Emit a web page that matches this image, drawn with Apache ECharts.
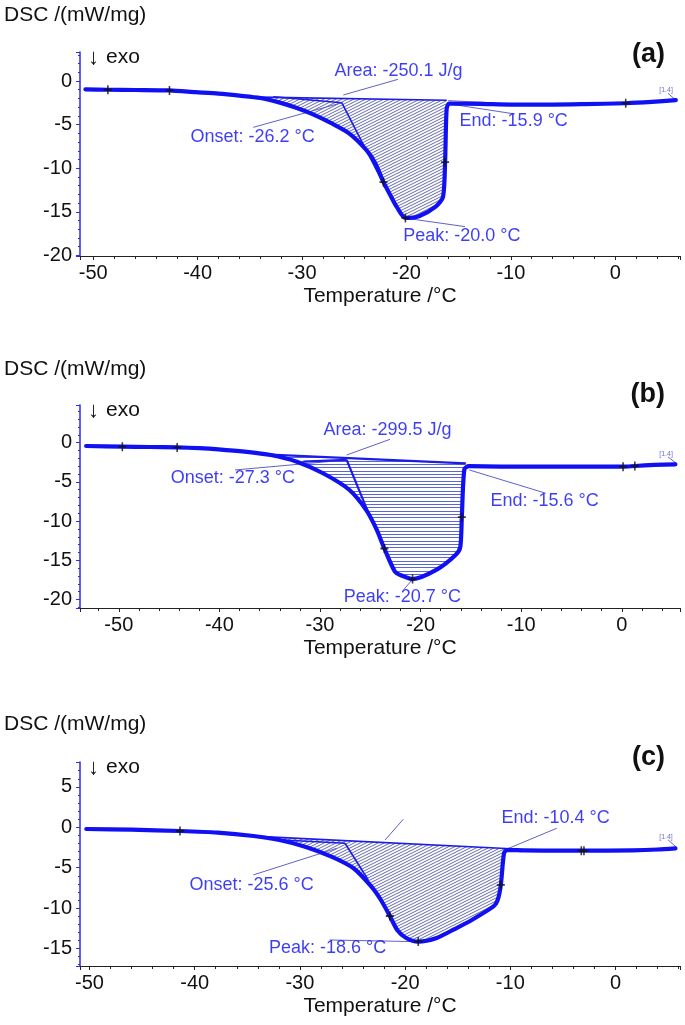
<!DOCTYPE html>
<html><head><meta charset="utf-8">
<script src="https://cdn.jsdelivr.net/npm/echarts@6/dist/echarts.min.js"></script>
<style>html,body{margin:0;padding:0;background:#fff}#c{width:685px;height:1025px}</style>
</head><body><div id="c"></div>
<script>
// ---------- DATA (temperature °C, DSC mW/mg) ----------
const curveA = [[-50.75,-0.95],[-48.6,-1.0],[-46,-1.03],[-42.7,-1.08],[-40.2,-1.28],[-38,-1.45],[-36,-1.68],[-34,-1.95],[-32.2,-2.45],[-30.5,-3.1],[-29,-3.8],[-27.2,-4.84],[-25.5,-6.0],[-23.85,-7.9],[-23,-9.4],[-22.2,-11.6],[-21.5,-13.2],[-20.9,-14.5],[-20.1,-15.7],[-18.8,-15.5],[-17.2,-14.4],[-16.5,-13.3],[-16.3,-9.3],[-16.15,-3.2],[-15.9,-2.6],[-13,-2.62],[-10,-2.7],[-6,-2.7],[-3,-2.65],[1.0,-2.55],[3.5,-2.4],[5.8,-2.2]];
const curveB = [[-53.25,-0.42],[-49.65,-0.51],[-47,-0.55],[-44.2,-0.6],[-42,-0.7],[-40.1,-0.85],[-37.5,-1.14],[-34.9,-1.57],[-32.3,-2.42],[-29.7,-3.9],[-27.1,-6.0],[-25.4,-8.6],[-24.4,-11],[-23.6,-13.5],[-22.55,-16.45],[-21.9,-16.95],[-20.8,-17.4],[-18.4,-16.2],[-16.5,-14.3],[-16.05,-13.3],[-15.9,-9.5],[-15.65,-3.4],[-15.2,-3.0],[-12,-3.05],[-9.76,-3.06],[-5.4,-3.06],[0.13,-3.06],[1.3,-2.97],[3.25,-2.84],[5.33,-2.76]];
const curveC = [[-50.3,-0.21],[-46,-0.3],[-41.4,-0.46],[-37.8,-0.66],[-34.4,-1.08],[-31.95,-1.57],[-29.5,-2.4],[-27.0,-3.63],[-24.9,-5.07],[-23.2,-7.35],[-22.3,-9.0],[-21.45,-10.98],[-20.75,-12.7],[-19.9,-13.7],[-18.75,-14.15],[-17.0,-13.7],[-15.3,-12.6],[-13.7,-11.5],[-11.6,-9.8],[-11.2,-9.0],[-10.9,-7.14],[-10.6,-3.22],[-10.3,-2.8],[-8.7,-2.85],[-5,-2.9],[-3.1,-2.9],[1.66,-2.85],[4,-2.75],[5.7,-2.6]];

const marksA = [[-48.6,-1.0],[-42.7,-1.08],[-22.2,-11.6],[-20.1,-15.7],[-16.3,-9.3],[1.0,-2.55]];
const marksB = [[-49.65,-0.51],[-44.2,-0.6],[-23.6,-13.5],[-20.8,-17.4],[-15.9,-9.5],[0.13,-3.06],[1.3,-2.97]];
const marksC = [[-41.4,-0.46],[-21.45,-10.98],[-18.75,-14.15],[-10.9,-7.14],[-3.25,-2.9],[-3.0,-2.9]];

const baseA = [[-34,-1.85],[-16.15,-2.2]];
const baseB = [[-35.5,-1.5],[-15.5,-2.63]];
const baseC = [[-34,-1.12],[-10.4,-2.62]];

const tangentA = [[[-32.76,-1.8],[-26.2,-2.49]],[[-26.2,-2.49],[-22.22,-11.73]]];
const tangentB = [[[-31.66,-2.42],[-27.35,-2.2]],[[-27.35,-2.2],[-25.03,-9.44]]];
const tangentC = [[[-31.58,-1.57],[-25.71,-1.98]],[[-25.71,-1.98],[-23.5,-6.52]]];

const leadersA = [[[-20.82,0.19],[-26.05,-1.6]],[[-34.67,-5.31],[-26.2,-2.49]],[[-9.61,-3.78],[-15.84,-2.64]],[[-19.98,-15.75],[-14.4,-16.7]],[[5.05,-1.4],[5.8,-2.2]],[[-16,-2.25],[-12.5,-2.45]]];
const leadersB = [[[-23.04,0.43],[-27.35,-1.57]],[[-38.45,-3.48],[-27.35,-2.2]],[[-15.15,-3.48],[-7.55,-6.45]],[[-20.79,-17.42],[-21.65,-18.7]],[[4.6,-1.82],[5.4,-2.6]]];
const leadersC = [[[-20.17,0.99],[-21.9,-1.57]],[[-34.43,-5.9],[-26.5,-2.6]],[[-5.58,-0.12],[-10.15,-2.6]],[[-27.17,-13.95],[-18.75,-14.16]],[[5.0,-1.57],[5.76,-2.44]]];

const labelsA = [[-26.95,1.15,'Area: -250.1 J/g'],[-40.74,-6.39,'Onset: -26.2 °C'],[-14.96,-4.59,'End: -15.9 °C'],[-20.36,-17.78,'Peak: -20.0 °C']];
const labelsB = [[-29.7,1.56,'Area: -299.5 J/g'],[-44.9,-4.5,'Onset: -27.3 °C'],[-13.1,-7.4,'End: -15.6 °C'],[-27.7,-19.64,'Peak: -20.7 °C']];
const labelsC = [[-10.88,1.19,'End: -10.4 °C'],[-40.54,-7.14,'Onset: -25.6 °C'],[-32.98,-14.98,'Peak: -18.6 °C']];
const segLabelA = [4.86,-1.03,'[1.4]'];
const segLabelB = [4.4,-1.44,'[1.4]'];
const segLabelC = [4.8,-1.16,'[1.4]'];

const tags = ['(a)','(b)','(c)'];
const yName = 'DSC /(mW/mg)';
const xName = 'Temperature /°C';
const exoArrow = '\u2193';
const exoWord = 'exo';

// ---------- LAYOUT ----------
const panels = [
  {curve:curveA, marks:marksA, base:baseA, tan:tangentA, lead:leadersA, labels:labelsA, seg:segLabelA, hatch:'diag', x:[-51.27,6.2], y:[-20.07,3.33], top:52, h:204, nameY:15, exoY:57, tagY:55},
  {curve:curveB, marks:marksB, base:baseB, tan:tangentB, lead:leadersB, labels:labelsB, seg:segLabelB, hatch:'horiz', x:[-53.86,5.79], y:[-21.09,4.81], top:405, h:203, nameY:369, exoY:410, tagY:395},
  {curve:curveC, marks:marksC, base:baseC, tan:tangentC, lead:leadersC, labels:labelsC, seg:segLabelC, hatch:'diag', x:[-50.9,6.13], y:[-17.17,8.08], top:762, h:204, nameY:724, exoY:767, tagY:758}
];

function makePattern(kind){
  const cv = document.createElement('canvas');
  if (kind === 'diag') {
    const w = 6, h = 3;
    cv.width = w; cv.height = h;
    const ctx = cv.getContext('2d');
    ctx.strokeStyle = 'rgba(50,58,140,0.9)';
    ctx.lineWidth = 0.85;
    for (let k=-2;k<=2;k++){ ctx.beginPath(); ctx.moveTo(-w, 2*h + k*h); ctx.lineTo(2*w, -h + k*h); ctx.stroke(); }
  } else {
    cv.width = 4; cv.height = 10;
    const ctx = cv.getContext('2d');
    ctx.fillStyle = 'rgba(70,85,210,0.9)';
    ctx.fillRect(0,1,4,1); ctx.fillRect(0,4,4,1); ctx.fillRect(0,7,4,1);
  }
  return {image: cv, repeat: 'repeat'};
}

const FONT = '"Liberation Sans", Arial, sans-serif';
const BLUE = '#1010f2';
const TXT = '#0c0cf0';
const plusPath = 'path://M4,0h2v10h-2z M0,4h10v2h-10z';
const isMult = (v, m) => Math.abs(v/m - Math.round(v/m)) < 1e-6;

const grid = [], xAxis = [], yAxis = [], series = [], graphic = [];
panels.forEach((p, i) => {
  grid.push({left:80, width:600, top:p.top, height:p.h, containLabel:false});
  xAxis.push({gridIndex:i, type:'value', min:p.x[0], max:p.x[1], minInterval:10, maxInterval:10,
    axisLine:{show:true, onZero:false, lineStyle:{color:'#222', width:1}},
    axisTick:{show:true, length:4, lineStyle:{color:'#222'}},
    minorTick:{show:true, splitNumber:5, length:3, lineStyle:{color:'#222'}},
    splitLine:{show:false},
    axisLabel:{margin:7, fontSize:20, color:'#111', fontFamily:FONT, formatter:v => isMult(v,10) ? String(Math.round(v)) : ''},
    name:xName, nameLocation:'middle', nameGap:30, nameTextStyle:{fontSize:21, color:'#111', fontFamily:FONT}});
  yAxis.push({gridIndex:i, type:'value', min:p.y[0], max:p.y[1], minInterval:5, maxInterval:5,
    axisLine:{show:true, onZero:false, lineStyle:{color:'#2a2af0', width:1.5}},
    axisTick:{show:true, length:4, lineStyle:{color:'#2a2af0'}},
    minorTick:{show:true, splitNumber:5, length:2, lineStyle:{color:'#2a2af0'}},
    splitLine:{show:false},
    axisLabel:{margin:8, fontSize:20, color:'#111', fontFamily:FONT, formatter:v => isMult(v,5) ? String(Math.round(v)) : ''}});

  const poly = [p.base[0]].concat(p.curve.filter(q => q[0] > p.base[0][0] && q[0] < p.base[1][0])).concat([p.base[1]]);
  const pattern = makePattern(p.hatch);
  series.push({type:'custom', xAxisIndex:i, yAxisIndex:i, silent:true, z:1, data:[p.base[0]],
    renderItem:(params, api) => ({type:'polygon', shape:{points: poly.map(q => api.coord(q)), smooth:0}, style:{fill: pattern, stroke: null}})});
  series.push({type:'lines', coordinateSystem:'cartesian2d', xAxisIndex:i, yAxisIndex:i, silent:true, z:2,
    data: p.lead.map(l => ({coords:l})), lineStyle:{color:'#6060cc', width:1, opacity:1}});
  series.push({type:'lines', coordinateSystem:'cartesian2d', xAxisIndex:i, yAxisIndex:i, silent:true, z:3,
    data: [{coords:p.base}].concat(p.tan.map(l => ({coords:l}))), lineStyle:{color:'#1c1ce6', width: i===1 ? 2.2 : 1.6, opacity:1}});
  series.push({type:'line', xAxisIndex:i, yAxisIndex:i, data:p.curve, showSymbol:false, smooth:0.25, silent:true, z:5,
    lineStyle:{color:BLUE, width:4.2, cap:'round', join:'round'}});
  series.push({type:'scatter', xAxisIndex:i, yAxisIndex:i, data:p.marks, symbol:plusPath, symbolSize:[8,9], silent:true, z:6,
    itemStyle:{color:'#111'}});
  const lab = p.labels.map(l => ({name:l[2], value:[l[0], l[1]]}));
  lab.push({name:p.seg[2], value:[p.seg[0], p.seg[1]], label:{position:'inside', fontSize:7, color:'#4b4bc8'}});
  series.push({type:'scatter', xAxisIndex:i, yAxisIndex:i, data:lab, symbolSize:1, silent:true, z:7,
    itemStyle:{color:'rgba(0,0,0,0)'},
    label:{show:true, position:'right', distance:0, formatter:'{b}', fontSize:18, color:TXT, fontFamily:FONT}});

  graphic.push({type:'text', x:4, y:p.nameY, style:{text:yName, font:'21px ' + FONT, fill:'#111', verticalAlign:'middle'}});
  graphic.push({type:'text', x:88, y:p.exoY + 1, style:{text:exoArrow, font:'22px ' + FONT, fill:'#111', verticalAlign:'middle'}});
  graphic.push({type:'text', x:106, y:p.exoY, style:{text:exoWord, font:'21px ' + FONT, fill:'#111', verticalAlign:'middle'}});
  graphic.push({type:'text', x:665, y:p.tagY, style:{text:tags[i], font:'bold 27px ' + FONT, fill:'#111', align:'right', verticalAlign:'middle'}});
});

const chart = echarts.init(document.getElementById('c'), null, {renderer:'canvas'});
chart.setOption({animation:false, backgroundColor:'#fff', grid, xAxis, yAxis, series, graphic});
</script></body></html>
